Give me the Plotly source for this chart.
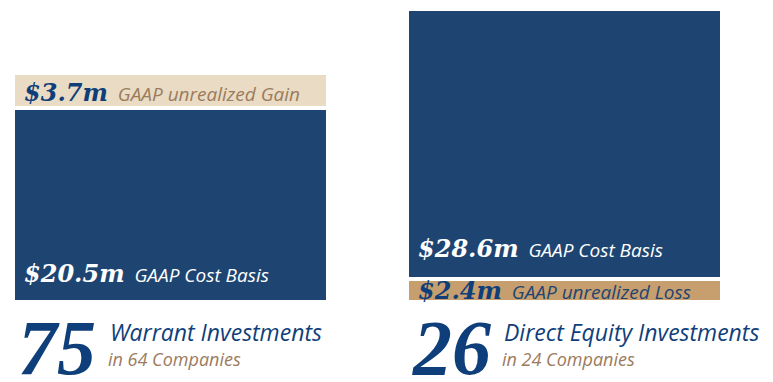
import plotly.graph_objects as go

# Data
groups = ["Warrant", "Direct Equity"]
counts = [75, 26]
company_counts = [64, 24]
group_titles = ["Warrant Investments", "Direct Equity Investments"]
cost_basis = [20.5, 28.6]
unrealized = [3.7, 2.4]
unrealized_kind = ["Gain", "Loss"]

NAVY = "#1e4572"
BEIGE = "#e9dbc4"
TAN = "#c79e6e"
TEXT_TAN = "#9b7b5d"
NUM_NAVY = "#0f3f7a"
SERIF = "DejaVu Serif"
BIGSERIF = "Liberation Serif"
SANS = "Open Sans"

xs = [0, 1]
W = 0.80

# Stack order: gain sits on top of cost basis; loss sits below cost basis
bottom_vals, bottom_cols, top_vals, top_cols = [], [], [], []
bottom_lbl, top_lbl = [], []
for i in range(2):
    if unrealized_kind[i] == "Gain":
        bottom_vals.append(cost_basis[i]); bottom_cols.append(NAVY); bottom_lbl.append("cost")
        top_vals.append(unrealized[i]); top_cols.append(BEIGE); top_lbl.append("unr")
    else:
        bottom_vals.append(unrealized[i]); bottom_cols.append(TAN); bottom_lbl.append("unr")
        top_vals.append(cost_basis[i]); top_cols.append(NAVY); top_lbl.append("cost")

fig = go.Figure()
fig.add_trace(go.Bar(x=xs, y=bottom_vals, width=W, marker=dict(color=bottom_cols, line=dict(color="white", width=4)),
                     hoverinfo="skip"))
fig.add_trace(go.Bar(x=xs, y=top_vals, width=W, marker=dict(color=top_cols, line=dict(color="white", width=4)),
                     hoverinfo="skip"))

def label(kind, i):
    if kind == "cost":
        val = cost_basis[i]; desc = "GAAP Cost Basis"; vcol = "white"; dcol = "white"
    else:
        val = unrealized[i]; desc = "GAAP unrealized " + unrealized_kind[i]
        vcol = NUM_NAVY
        dcol = TEXT_TAN if unrealized_kind[i] == "Gain" else NAVY
    return (f"<span style='font-family:{SERIF};font-size:24px;color:{vcol}'><b><i>${val}m</i></b></span>"
            f"<span style='font-family:{SANS};font-size:19px;color:{dcol}'><i>  {desc}</i></span>")

annots = []
for i in range(2):
    b = bottom_vals[i]; t = top_vals[i]
    k = bottom_lbl[i]
    if k == "cost":
        ypos, yanc, ysh = 0, "bottom", 12
    else:
        ypos, yanc, ysh = b / 2, "middle", 0
    annots.append(dict(x=xs[i] - W / 2, y=ypos, xref="x", yref="y", xanchor="left", yanchor=yanc,
                       xshift=9, yshift=ysh, showarrow=False, text=label(k, i), align="left"))
    k = top_lbl[i]
    if k == "cost":
        ypos, yanc, ysh = b, "bottom", 14
    else:
        ypos, yanc, ysh = b + t / 2, "middle", -2
    annots.append(dict(x=xs[i] - W / 2, y=ypos, xref="x", yref="y", xanchor="left", yanchor=yanc,
                       xshift=9, yshift=ysh, showarrow=False, text=label(k, i), align="left"))
    # captions
    annots.append(dict(x=xs[i] - W / 2, y=0, xref="x", yref="y", xanchor="left", yanchor="top",
                       xshift=3, yshift=0, showarrow=False,
                       text=f"<b><i>{counts[i]}</i></b>",
                       font=dict(family=BIGSERIF, size=78, color=NUM_NAVY)))
    annots.append(dict(x=xs[i] - W / 2, y=0, xref="x", yref="y", xanchor="left", yanchor="top",
                       xshift=95, yshift=-12, showarrow=False, align="left",
                       text=f"<i>{group_titles[i]}</i>",
                       font=dict(family=SANS, size=23, color=NUM_NAVY)))
    annots.append(dict(x=xs[i] - W / 2, y=0, xref="x", yref="y", xanchor="left", yanchor="top",
                       xshift=93, yshift=-43, showarrow=False, align="left",
                       text=f"<i>in {company_counts[i]} Companies</i>",
                       font=dict(family=SANS, size=18, color=TEXT_TAN)))

fig.update_layout(
    barmode="stack",
    width=765, height=374,
    margin=dict(l=0, r=0, t=0, b=0),
    paper_bgcolor="white", plot_bgcolor="white",
    showlegend=False,
    annotations=annots,
    xaxis=dict(range=[-0.4124, 1.5292], visible=False, fixedrange=True),
    yaxis=dict(range=[-8.464, 31.106], visible=False, fixedrange=True),
)

fig.write_html("out.html")
